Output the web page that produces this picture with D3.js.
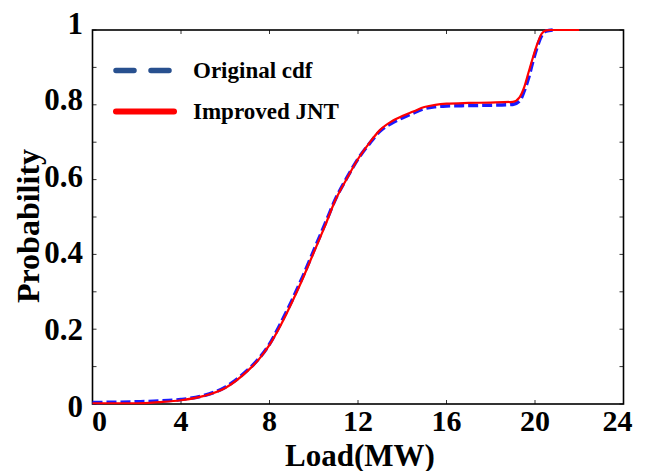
<!DOCTYPE html>
<html>
<head>
<meta charset="utf-8">
<script src="https://cdn.jsdelivr.net/npm/d3@7"></script>
<style>
  html, body { margin: 0; padding: 0; background: #fff; }
  svg { display: block; }
  text { font-family: "Liberation Serif", "Times New Roman", serif; font-weight: bold; fill: #000; }
</style>
</head>
<body>
<script>
// ---- data ----
const xTicks = [0, 4, 8, 12, 16, 20, 24];
const yTickLabels = [0, 0.2, 0.4, 0.6, 0.8, 1];
const yMinorTicks = [0, 0.1, 0.2, 0.3, 0.4, 0.5, 0.6, 0.7, 0.8, 0.9, 1];

const originalLoad = [0, 2, 3, 4, 5, 6, 7, 7.5, 8, 8.5, 9, 9.5, 10, 10.5, 11, 11.5, 12, 12.5, 13, 13.5, 14, 14.5, 15, 15.5, 16, 17, 18, 19, 19.3, 19.5, 19.7, 19.9, 20.1, 20.3, 20.5, 20.8];
const originalCdf  = [0.004, 0.006, 0.008, 0.012, 0.022, 0.045, 0.09, 0.12, 0.16, 0.215, 0.275, 0.34, 0.41, 0.48, 0.55, 0.605, 0.655, 0.695, 0.73, 0.75, 0.765, 0.778, 0.79, 0.795, 0.797, 0.798, 0.799, 0.801, 0.81, 0.835, 0.87, 0.915, 0.955, 0.985, 0.997, 1.0];

const improvedLoad = [0, 2, 3, 4, 5, 6, 7, 7.5, 8, 8.5, 9, 9.5, 10, 10.5, 11, 11.5, 12, 12.5, 13, 13.5, 14, 14.5, 15, 15.5, 16, 17, 18, 19, 19.3, 19.5, 19.7, 19.9, 20.1, 20.3, 20.5, 20.7, 22];
const improvedCdf  = [0.002, 0.002, 0.005, 0.01, 0.021, 0.043, 0.088, 0.118, 0.158, 0.21, 0.27, 0.335, 0.405, 0.475, 0.548, 0.603, 0.655, 0.697, 0.733, 0.755, 0.77, 0.782, 0.794, 0.8, 0.803, 0.805, 0.806, 0.808, 0.82, 0.845, 0.885, 0.925, 0.962, 0.99, 0.999, 1.0, 1.0];

const seriesNames = ["Original cdf", "Improved JNT"];
const xTitle = "Load(MW)";
const yTitle = "Probability";

// ---- layout ----
const W = 647, H = 471;
const svg = d3.select("body").append("svg").attr("width", W).attr("height", H);

const x = d3.scaleLinear().domain([0, 24]).range([92.5, 623.5]);
const y = d3.scaleLinear().domain([0, 1]).range([404, 30]);
// tick-label placement (the exported figure nudges end labels inward / stretches y labels)
const xLabelPos = d => x(d) + (d === 0 ? 7 : d === 24 ? -6 : 0);
const yLab = d3.scaleLinear().domain([0, 1]).range([406, 23]);

const g = svg.append("g");

// ticks (inward, on all four sides)
const tickLen = 4;
g.selectAll(".xtb").data(xTicks).join("line")
  .attr("x1", d => x(d)).attr("x2", d => x(d))
  .attr("y1", y(0)).attr("y2", y(0) - tickLen)
  .attr("stroke", "#333").attr("stroke-width", 1);
g.selectAll(".xtt").data(xTicks).join("line")
  .attr("x1", d => x(d)).attr("x2", d => x(d))
  .attr("y1", y(1)).attr("y2", y(1) + tickLen)
  .attr("stroke", "#333").attr("stroke-width", 1);
g.selectAll(".ytl").data(yMinorTicks).join("line")
  .attr("x1", x(0)).attr("x2", x(0) + tickLen)
  .attr("y1", d => y(d)).attr("y2", d => y(d))
  .attr("stroke", "#333").attr("stroke-width", 1);
g.selectAll(".ytr").data(yMinorTicks).join("line")
  .attr("x1", x(24)).attr("x2", x(24) - tickLen)
  .attr("y1", d => y(d)).attr("y2", d => y(d))
  .attr("stroke", "#333").attr("stroke-width", 1);

// frame
g.append("rect")
  .attr("x", x(0)).attr("y", y(1))
  .attr("width", x(24) - x(0)).attr("height", y(0) - y(1))
  .attr("fill", "none").attr("stroke", "#000").attr("stroke-width", 1.6);

// curves
const lineGen = d3.line().x(d => x(d[0])).y(d => y(d[1])).curve(d3.curveMonotoneX);
const origPts = originalLoad.map((v, i) => [v, originalCdf[i]]);
const impPts = improvedLoad.map((v, i) => [v, improvedCdf[i]]);

g.append("path").attr("d", lineGen(origPts))
  .attr("fill", "none").attr("stroke", "#1a1aff").attr("stroke-width", 3.5)
  .attr("stroke-dasharray", "10,4");
g.append("path").attr("d", lineGen(impPts))
  .attr("fill", "none").attr("stroke", "#ff0000").attr("stroke-width", 2.2);

// tick labels
svg.selectAll(".xl").data(xTicks).join("text")
  .attr("x", d => xLabelPos(d)).attr("y", 431)
  .attr("text-anchor", "middle").attr("font-size", 30)
  .text(d => d);
svg.selectAll(".yl").data(yTickLabels).join("text")
  .attr("x", 83).attr("y", d => yLab(d)).attr("dy", "0.34em")
  .attr("text-anchor", "end").attr("font-size", 31)
  .text(d => d);

// axis titles
svg.append("text").attr("x", 360).attr("y", 465.5)
  .attr("text-anchor", "middle").attr("font-size", 31).text(xTitle);
svg.append("text")
  .attr("transform", `translate(39,${226}) rotate(-90)`)
  .attr("text-anchor", "middle").attr("font-size", 32).text(yTitle);

// legend
const legY = [70.5, 111.5];
svg.append("line").attr("x1", 116).attr("x2", 170).attr("y1", legY[0]).attr("y2", legY[0])
  .attr("stroke", "#28508f").attr("stroke-width", 5.5).attr("stroke-linecap", "round")
  .attr("stroke-dasharray", "18,17");
svg.append("line").attr("x1", 116).attr("x2", 174).attr("y1", legY[1]).attr("y2", legY[1])
  .attr("stroke", "#ff0000").attr("stroke-width", 6).attr("stroke-linecap", "round");
svg.selectAll(".lt").data(seriesNames).join("text")
  .attr("x", 193).attr("y", (d, i) => legY[i]).attr("dy", "0.33em")
  .attr("font-size", 23).text(d => d);
</script>
</body>
</html>
